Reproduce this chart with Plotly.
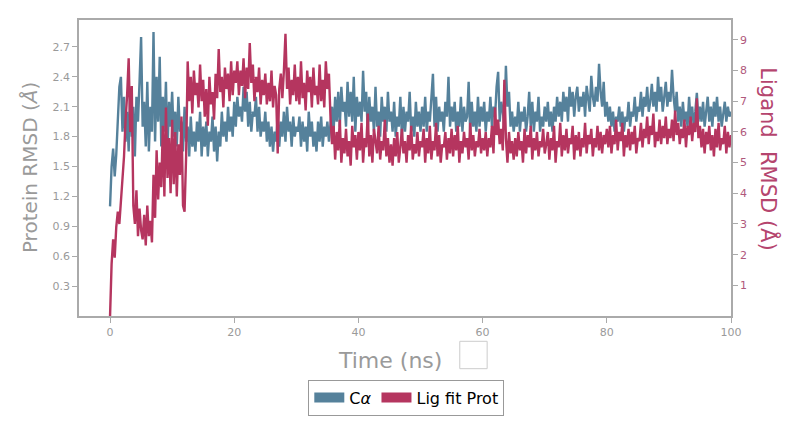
import plotly.graph_objects as go

# Protein C-alpha RMSD (Å), left axis, one value every 0.25 ns from 0 to 100 ns
ca_rmsd = [
    1.10,
    1.50, 1.68, 1.40, 1.62, 1.95, 2.30, 2.40, 1.85, 2.20, 1.75,
    2.05, 1.65, 2.25, 1.80, 2.10, 1.60, 2.20, 1.95, 2.35, 2.80,
    1.90, 2.15, 1.70, 2.35, 1.65, 2.10, 1.85, 2.85, 1.75, 2.40,
    1.95, 2.60, 1.70, 2.20, 1.85, 2.35, 1.65, 2.15, 1.90, 2.25,
    1.80, 2.05, 1.70, 2.20, 1.85, 1.95, 1.65, 2.10, 1.75, 1.90,
    1.60, 2.00, 1.70, 1.85, 1.65, 1.95, 1.75, 2.05, 1.60, 1.90,
    1.70, 1.95, 1.60, 1.85, 1.75, 2.00, 1.65, 1.90, 1.55, 1.85,
    1.70, 2.05, 1.80, 1.95, 1.75, 2.10, 1.85, 2.00, 1.80, 2.15,
    1.90, 2.20, 2.00, 2.10, 1.95, 2.30, 2.05, 2.25, 1.90, 2.15,
    1.85, 2.05, 2.00, 2.20, 1.85, 2.10, 1.80, 1.95, 1.85, 2.05,
    1.75, 1.95, 1.70, 1.90, 1.65, 1.85, 1.75, 2.00, 1.70, 1.95,
    1.80, 2.05, 1.75, 2.10, 1.85, 1.95, 1.70, 2.00, 1.80, 1.90,
    1.85, 2.00, 1.70, 1.95, 1.75, 1.90, 1.65, 2.05, 1.80, 1.95,
    1.70, 1.85, 1.65, 1.95, 1.75, 2.00, 1.70, 1.90, 1.80, 1.95,
    1.75, 1.95, 2.10, 1.85, 2.20, 1.95, 2.25, 1.90, 2.30, 2.05,
    2.15, 1.90, 2.35, 2.00, 2.25, 1.95, 2.40, 1.85, 2.20, 2.00,
    2.15, 1.95, 2.46, 2.05, 2.25, 1.85, 2.20, 1.95, 2.10, 1.85,
    2.30, 1.90, 2.05, 1.80, 2.20, 1.95, 2.10, 1.85, 2.25, 1.95,
    2.05, 1.85, 2.15, 1.80, 2.00, 1.90, 2.20, 1.80, 2.10, 1.85,
    2.05, 1.95, 2.25, 1.85, 2.00, 1.80, 2.15, 1.90, 2.05, 1.85,
    2.10, 1.90, 2.20, 1.85, 2.05, 1.95, 2.15, 2.43, 1.90, 2.20,
    1.85, 2.10, 1.95, 2.05, 1.85, 2.15, 2.00, 2.40, 1.90, 2.10,
    1.95, 2.15, 1.85, 2.05, 1.90, 2.20, 1.85, 2.10, 1.95, 2.00,
    2.35, 1.85, 2.15, 1.90, 2.05, 1.85, 2.20, 1.90, 2.10, 1.95,
    2.15, 1.85, 2.05, 1.95, 2.20, 1.90, 2.10, 2.00, 2.30, 2.45,
    1.95, 2.15, 2.05, 1.90, 2.51, 2.10, 2.25, 1.90, 2.05, 1.85,
    2.00, 1.90, 2.15, 1.85, 2.05, 1.95, 2.10, 1.85, 2.00, 2.25,
    1.90, 2.15, 1.85, 2.05, 1.95, 2.20, 1.85, 2.00, 1.90, 2.10,
    1.95, 2.15, 1.90, 2.05, 1.85, 2.10, 1.95, 2.20, 2.00, 2.15,
    1.95, 2.25, 2.05, 2.20, 1.95, 2.30, 2.10, 2.25, 2.00, 2.20,
    2.30, 2.05, 2.20, 2.10, 2.25, 2.00, 2.31, 2.15, 2.05, 2.41,
    2.20, 2.10, 2.30, 2.15, 2.53, 2.25, 2.10, 2.35, 2.00, 2.15,
    1.95, 2.10, 1.90, 2.05, 1.85, 2.00, 1.95, 2.10, 1.90, 2.05,
    1.85, 2.00, 1.95, 2.15, 1.90, 2.05, 2.00, 2.20, 1.95, 2.10,
    2.05, 2.25, 2.00, 2.20, 2.10, 2.30, 2.05, 2.15, 2.33, 2.10,
    2.25, 2.05, 2.40, 2.15, 2.30, 2.05, 2.20, 2.35, 2.10, 2.25,
    2.15, 2.47, 2.20, 2.05, 2.25, 1.95, 2.10, 1.90, 2.15, 1.95,
    2.05, 1.90, 2.20, 1.95, 2.10, 1.90, 2.05, 2.24, 1.95, 2.10,
    1.95, 2.15, 1.90, 2.05, 2.20, 1.95, 2.10, 1.90, 2.15, 2.00,
    2.20, 1.95, 2.10, 1.90, 2.05, 2.15, 1.95, 2.10, 2.00, 2.05,
]

# Ligand RMSD fit on protein (Å), right axis, same sampling
lig_rmsd = [
    0.0,
    1.7, 2.5, 1.9, 2.9, 3.4, 3.0, 3.7, 4.3, 5.2, 6.4,
    7.2, 8.4, 6.0, 7.5, 3.6, 3.0, 4.1, 2.6, 3.5, 2.8,
    2.5, 3.3, 2.3, 3.6, 2.6, 3.1, 2.4, 4.6, 3.2, 5.4,
    3.8, 5.0, 4.2, 6.2, 3.9, 6.8, 4.5, 5.8, 4.0, 6.4,
    4.3, 6.0, 3.9, 5.6, 4.6, 6.5, 3.6, 3.4, 5.2, 8.3,
    7.0, 7.8, 6.6, 8.0, 7.2, 7.6, 6.8, 8.2, 7.0, 7.7,
    6.5, 7.4, 6.2, 7.8, 6.9, 7.3, 6.4, 7.9, 7.1, 8.7,
    7.3, 7.8, 6.8, 8.1, 7.4, 7.9, 7.0, 8.3, 7.2, 8.0,
    7.6, 8.3, 7.2, 8.0, 7.5, 8.4, 7.1, 8.1, 7.4, 8.9,
    7.6, 8.2, 7.0, 7.8, 7.3, 8.1, 6.9, 7.7, 7.2, 7.9,
    6.9, 7.6, 7.0, 8.0, 6.8, 7.5, 7.2, 5.3, 7.4, 7.9,
    7.1, 8.0, 9.2, 7.4, 8.1, 6.9, 7.7, 7.2, 8.2, 7.0,
    7.8, 6.9, 8.3, 7.1, 7.6, 6.7, 8.0, 7.3, 7.8, 6.8,
    8.1, 7.2, 7.5, 6.9, 8.2, 7.0, 7.7, 6.8, 8.3, 7.4,
    7.9, 6.5, 5.6, 6.2, 5.1, 6.0, 5.4, 6.4, 5.0, 5.8,
    5.3, 6.1, 5.2, 5.7, 4.9, 6.2, 5.5, 5.9, 5.1, 6.0,
    5.4, 6.3, 5.0, 5.8, 5.5, 6.6, 5.2, 5.9, 5.0, 6.1,
    5.6, 5.3, 6.2, 5.1, 5.7, 5.4, 6.4, 5.2, 5.8, 5.0,
    5.6, 4.9, 5.8, 5.2, 6.0, 5.0, 5.5, 6.1, 5.3, 5.7,
    5.0, 5.9, 5.4, 6.2, 5.1, 5.6, 5.3, 6.0, 5.2, 5.7,
    5.5, 6.1, 5.0, 5.8, 5.3, 6.2, 5.1, 5.7, 5.4, 6.3,
    5.2, 5.9, 5.0, 5.6, 5.5, 6.0, 5.1, 5.8, 5.3, 6.1,
    5.2, 5.9, 5.4, 6.2, 5.0, 5.7, 5.3, 6.0, 5.5, 5.8,
    5.1, 6.3, 5.4, 5.9, 5.2, 5.7, 5.5, 6.1, 5.3, 5.8,
    5.4, 6.0, 5.2, 5.8, 5.5, 6.2, 5.3, 6.8, 5.9, 6.4,
    5.6, 6.1, 5.4, 7.7, 5.8, 5.0, 6.0, 5.3, 5.7, 5.1,
    5.8, 5.2, 6.0, 5.4, 5.7, 5.0, 6.1, 5.3, 5.9, 5.5,
    6.2, 5.1, 5.8, 5.4, 6.0, 5.2, 5.7, 5.5, 6.1, 5.3,
    5.6, 6.0, 5.1, 5.8, 5.4, 6.2, 5.0, 5.7, 5.5, 6.3,
    5.2, 5.9, 5.4, 6.1, 5.3, 5.8, 5.6, 6.2, 5.1, 5.9,
    5.4, 6.0, 5.2, 5.8, 5.5, 6.3, 5.3, 5.9, 5.6, 6.1,
    5.2, 5.8, 5.5, 6.2, 5.4, 6.0, 5.3, 5.9, 5.6, 6.1,
    5.5, 6.2, 5.3, 5.9, 5.6, 6.4, 5.4, 6.0, 5.7, 6.3,
    5.2, 5.9, 5.5, 6.1, 5.4, 6.0, 5.6, 6.2, 5.3, 5.8,
    5.7, 6.3, 5.5, 6.1, 5.8, 6.5, 5.6, 6.2, 5.9, 6.6,
    5.5, 6.0, 5.7, 6.4, 5.6, 6.2, 5.8, 6.5, 5.6, 6.1,
    5.8, 6.4, 5.7, 6.7, 5.9, 6.3, 5.6, 6.1, 5.8, 6.4,
    5.5, 6.2, 5.9, 6.5, 5.7, 6.3, 6.0, 7.1, 5.8, 6.2,
    5.5, 6.1, 5.3, 6.0, 5.6, 6.2, 5.4, 5.9, 5.2, 6.1,
    5.5, 6.3, 5.4, 5.8, 5.6, 6.2, 5.3, 6.0, 5.5, 5.9,
]

# time stamps (ns) of the frames above: 0.25 ns per frame
time_ns = [i * 0.25 for i in range(len(ca_rmsd))]

x_ticks = [0, 20, 40, 60, 80, 100]
left_ticks = [0.3, 0.6, 0.9, 1.2, 1.5, 1.8, 2.1, 2.4, 2.7]
left_labels = ["0.3", "0.6", "0.9", "1.2", "1.5", "1.8", "2.1", "2.4", "2.7"]
right_ticks = [1, 2, 3, 4, 5, 6, 7, 8, 9]

BLUE = "#55819b"
RED = "#b5355f"
GRAY = "#9a9a9a"
RIGHT_TICK = "#b0587c"
FONT = "DejaVu Sans"

fig = go.Figure()
fig.add_trace(go.Scatter(x=time_ns, y=ca_rmsd, mode="lines",
                         line=dict(color=BLUE, width=2.4), showlegend=False))
fig.add_trace(go.Scatter(x=time_ns[:len(lig_rmsd)], y=lig_rmsd, mode="lines", yaxis="y2",
                         line=dict(color=RED, width=2.4), showlegend=False))
# legend-only entries with thick swatches
fig.add_trace(go.Scatter(x=[None], y=[None], mode="lines", name="C<i>α</i>",
                         line=dict(color=BLUE, width=12)))
fig.add_trace(go.Scatter(x=[None], y=[None], mode="lines", name="Lig fit Prot",
                         line=dict(color=RED, width=12)))

# the page body has an 8 px margin, so the figure is 8 px smaller than the window
fig.update_layout(
    width=790, height=420,
    margin=dict(l=71, r=67, t=12, b=104),
    paper_bgcolor="white", plot_bgcolor="white",
    font=dict(family=FONT, color=GRAY, size=11),
    xaxis=dict(range=[-5, 100], tickvals=x_ticks, showgrid=False, zeroline=False,
               showline=True, linecolor="#aaaaaa", linewidth=1.5, mirror=True,
               ticks="outside", ticklen=5, tickcolor="#aaaaaa",
               tickfont=dict(color=GRAY, size=11)),
    yaxis=dict(range=[0, 2.97], tickvals=left_ticks, ticktext=left_labels,
               showgrid=False, zeroline=False, showline=True, linecolor="#aaaaaa",
               linewidth=1.5, ticks="outside", ticklen=5, tickcolor="#aaaaaa",
               tickfont=dict(color=GRAY, size=11)),
    yaxis2=dict(range=[0, 9.65], tickvals=right_ticks, overlaying="y", side="right",
                showgrid=False, zeroline=False, showline=True, linecolor="#aaaaaa",
                linewidth=1.5, ticks="outside", ticklen=5, tickcolor="#aaaaaa",
                tickfont=dict(color=RIGHT_TICK, size=11)),
    legend=dict(orientation="h", x=0.502, xanchor="center", y=-0.215, yanchor="top",
                bordercolor="#999999", borderwidth=1, bgcolor="white",
                font=dict(family=FONT, color="black", size=16),
                itemwidth=30, tracegroupgap=0),
    annotations=[
        dict(text="Protein RMSD (<i>Å</i>)", xref="paper", yref="paper",
             x=-0.075, y=0.5, xanchor="center", yanchor="middle", textangle=-90,
             showarrow=False, font=dict(family=FONT, size=20, color=GRAY)),
        dict(text="Ligand  RMSD (Å)", xref="paper", yref="paper",
             x=1.058, y=0.53, xanchor="center", yanchor="middle", textangle=90,
             showarrow=False, font=dict(family=FONT, size=21, color="#b5456e")),
        dict(text="Time (ns)", xref="paper", yref="paper",
             x=0.477, y=-0.15, xanchor="center", yanchor="middle",
             showarrow=False, font=dict(family=FONT, size=22, color=GRAY)),
    ],
    shapes=[
        dict(type="rect", xref="paper", yref="paper", x0=0.584, x1=0.626,
             y0=-0.178, y1=-0.0855, line=dict(color="#cccccc", width=1)),
    ],
)

fig.write_html("out.html")
